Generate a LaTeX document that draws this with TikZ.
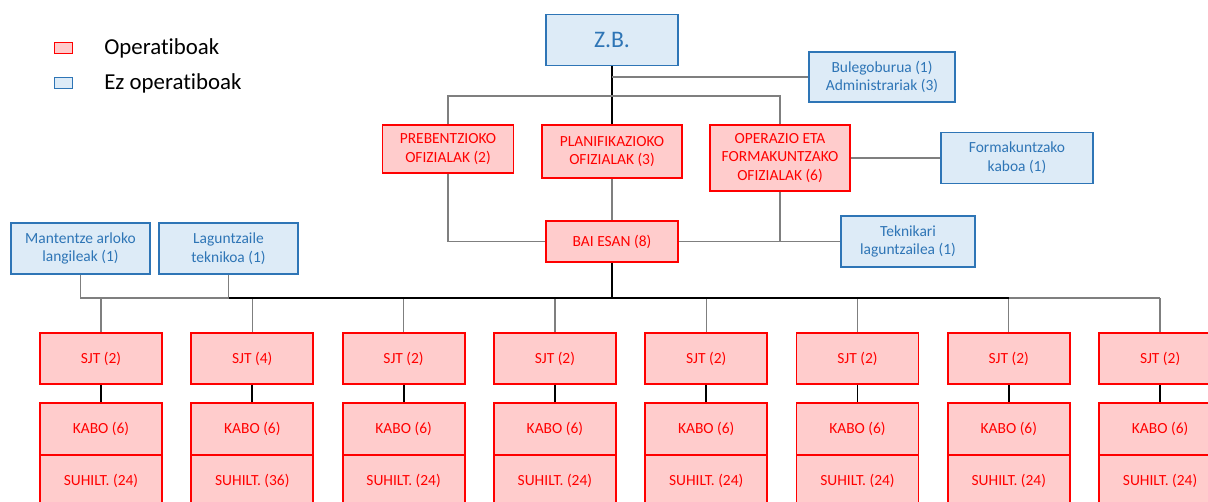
\documentclass[tikz,border=0pt]{standalone}
\usepackage{fontspec}
\setmainfont[Ligatures=NoCommon]{Carlito}
\usetikzlibrary{positioning}

\definecolor{opred}{HTML}{FF0000}
\definecolor{opfill}{HTML}{FFCCCC}
\definecolor{ezblue}{HTML}{2E75B6}
\definecolor{ezfill}{HTML}{DDEBF7}
\definecolor{linegray}{HTML}{7F7F7F}

\begin{document}
\begin{tikzpicture}
[x=0.02cm, y=-0.02cm,
 opbox/.style={draw=opred, fill=opfill, text=opred, line width=1.1pt, align=center, inner sep=1pt, font=\fontsize{8.8}{10.6}\selectfont},
 ezbox/.style={draw=ezblue, fill=ezfill, text=ezblue, line width=1.1pt, align=center, inner sep=1pt, font=\fontsize{8.8}{10.6}\selectfont},
 thin line/.style={draw=linegray, line width=0.7pt},
 trunk/.style={draw=black, line width=1.1pt},
 legend/.style={anchor=west, inner sep=0, font=\fontsize{13}{15}\selectfont}]
\useasboundingbox (0,0) rectangle (1208,501);
% legend
\node (legop) [draw=opred, fill=opfill, line width=1pt, minimum width=0.36cm, minimum height=0.22cm, inner sep=0] at (63.5, 48) {};
\node (legez) [draw=ezblue, fill=ezfill, line width=1pt, minimum width=0.36cm, minimum height=0.22cm, inner sep=0] at (63.5, 83) {};
\node (legoptext) [legend] at (104, 48) {Operatiboak};
\node (legeztext) [legend] at (104, 83) {Ez operatiboak};
% upper levels
\node (zb) [ezbox, minimum width=2.64cm, minimum height=1.02cm, font=\fontsize{13.5}{15}\selectfont] at (612, 40) {Z.B.};
\node (bulego) [ezbox, minimum width=2.92cm, minimum height=1.0cm] at (882, 77) {Bulegoburua (1)\\Administrariak (3)};
\node (preb) [opbox, minimum width=2.62cm, minimum height=0.96cm] at (448, 149) {PREBENTZIOKO\\OFIZIALAK (2)};
\node (plan) [opbox, minimum width=2.8cm, minimum height=1.06cm] at (612, 151.5) {PLANIFIKAZIOKO\\OFIZIALAK (3)};
\node (oper) [opbox, minimum width=2.8cm, minimum height=1.32cm] at (780, 158) {OPERAZIO ETA\\FORMAKUNTZAKO\\OFIZIALAK (6)};
\node (forma) [ezbox, minimum width=3.04cm, minimum height=1.02cm] at (1017, 158) {Formakuntzako\\kaboa (1)};
\node (bai) [opbox, minimum width=2.64cm, minimum height=0.82cm] at (612, 241.5) {BAI ESAN (8)};
\node (tekni) [ezbox, minimum width=2.68cm, minimum height=1.02cm] at (908, 241.5) {Teknikari\\laguntzailea (1)};
\node (mant) [ezbox, minimum width=2.78cm, minimum height=1.02cm] at (80.5, 248.5) {Mantentze arloko\\langileak (1)};
\node (lagun) [ezbox, minimum width=2.78cm, minimum height=1.02cm] at (228.5, 248.5) {Laguntzaile\\teknikoa (1)};
\coordinate (topbar) at (612, 96);
\coordinate (midbar) at (612, 298);
% units
\foreach \i/\sjt/\suh in {1/2/24, 2/4/36, 3/2/24, 4/2/24, 5/2/24, 6/2/24, 7/2/24, 8/2/24} {
  \node (sjt\i) [opbox, minimum width=2.44cm, minimum height=1.02cm] at ({101+151.3*(\i-1)}, 358.5) {SJT (\sjt)};
  \node (kabo\i) [opbox, minimum width=2.44cm, minimum height=1.04cm] at ({101+151.3*(\i-1)}, 429) {KABO (6)};
  \node (suhilt\i) [opbox, minimum width=2.44cm, minimum height=1.04cm] at ({101+151.3*(\i-1)}, 481) {SUHILT. (\suh)};
  \draw [trunk] (sjt\i.south) -- (kabo\i.north);
  \draw [thin line] (sjt\i.north) -- (sjt\i.north |- midbar);
}
% connectors
\draw [trunk] (zb.south) -- (plan.north);
\draw [thin line] (preb.north) |- (topbar) -| (oper.north);
\draw [thin line] (zb.south |- bulego.west) -- (bulego.west);
\draw [thin line] (oper.east) -- (forma.west);
\draw [thin line] (plan.south) -- (bai.north);
\draw [thin line] (preb.south) |- (bai.west);
\draw [thin line] (bai.east) -- (tekni.west);
\draw [thin line] (oper.south) -- (oper.south |- tekni.west);
\draw [thin line] (mant.south) |- (lagun.south |- midbar);
\draw [thin line] (lagun.south) -- (lagun.south |- midbar);
\draw [trunk] (lagun.south |- midbar) -- (sjt7.north |- midbar);
\draw [thin line] (sjt7.north |- midbar) -- (sjt8.north |- midbar);
\draw [trunk] (bai.south) -- (midbar);
\end{tikzpicture}
\end{document}
